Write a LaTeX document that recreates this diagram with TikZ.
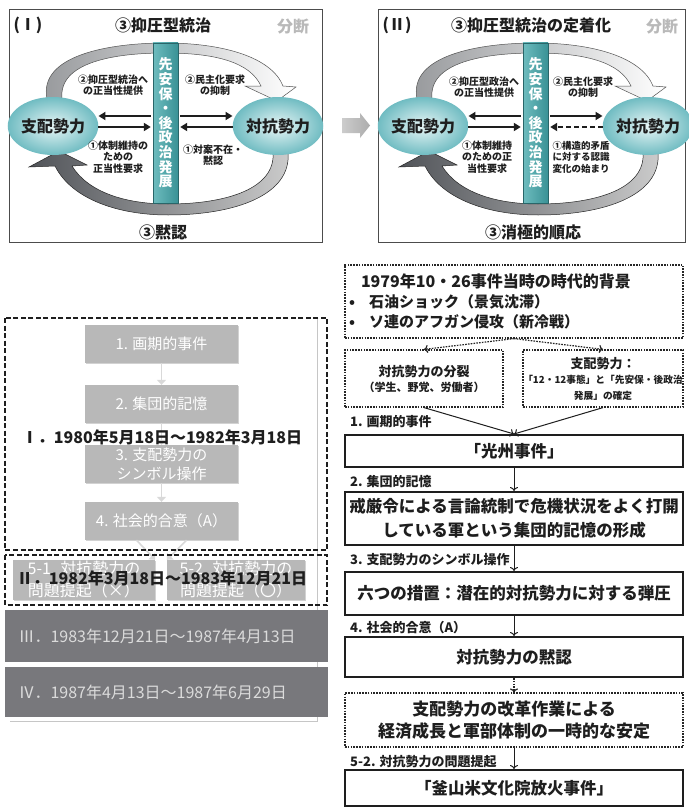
\documentclass[tikz,border=0pt]{standalone}
\usepackage{fontspec}
\setmainfont{Noto Sans CJK JP}
\usetikzlibrary{shapes.geometric,arrows.meta,calc,shadows}

\definecolor{ellin}{RGB}{232,246,246}
\definecolor{ellout}{RGB}{112,188,194}
\definecolor{barL}{RGB}{110,188,190}
\definecolor{barR}{RGB}{58,146,150}
\definecolor{bandL}{RGB}{150,152,155}
\definecolor{bandD}{RGB}{80,83,88}
\definecolor{gboxc}{RGB}{184,184,184}
\definecolor{dboxc}{RGB}{120,120,124}
\definecolor{ink}{RGB}{30,30,30}

\tikzset{
  ell/.style={ellipse, inner color=ellin, outer color=ellout, text=ink,
    font=\bfseries\fontsize{16}{18}\selectfont, inner sep=0pt},
  barbox/.style={rectangle, left color=barL, right color=barR, draw=barR!70!black,
    line width=0.4pt, text=white, font=\bfseries\fontsize{14}{14.6}\selectfont,
    align=center, inner sep=0pt, minimum width=25pt, minimum height=160pt},
  harr/.style={draw=ink, line width=1.8pt, -{Triangle[length=7pt,width=8pt]}},
  lbl/.style={font=\bfseries\fontsize{10}{11.5}\selectfont, text=ink, align=center, inner sep=0pt},
  ttl/.style={font=\bfseries\fontsize{16}{18}\selectfont, text=ink, inner sep=0pt},
  grayttl/.style={font=\bfseries\fontsize{16}{18}\selectfont, text=gray!55, inner sep=0pt},
  frame/.style={draw=gray!60!black, line width=1pt},
  gb/.style={rectangle, fill=gboxc, text=white, font=\fontsize{15}{19}\selectfont,
    align=center, inner sep=0pt,
    drop shadow={shadow xshift=1.2pt, shadow yshift=-1.2pt, fill=gray!70, opacity=0.5}},
  garr/.style={draw=gray!30, line width=1.6pt, -{Triangle[length=5pt,width=9pt]}},
  blk/.style={font=\bfseries\fontsize{16}{18}\selectfont, text=ink, inner sep=0pt},
  db/.style={rectangle, fill=dboxc, text=gray!28, font=\fontsize{16}{18}\selectfont,
    inner sep=0pt, minimum width=323pt, text width=296pt, align=left},
  perframe/.style={draw=ink, line width=1.8pt, dash pattern=on 5pt off 2.5pt},
  fbox/.style={rectangle, draw=ink, line width=2pt, fill=white, text=ink,
    font=\bfseries\fontsize{16.5}{24}\selectfont, align=center, inner sep=0pt,
    minimum width=338pt},
  dotbox/.style={rectangle, draw=gray!30!black, line width=1.2pt,
    dash pattern=on 1.6pt off 1.2pt, fill=white, text=ink, inner sep=0pt},
  farr/.style={draw=ink, line width=1pt, -{To[length=4pt,width=8pt]}},
  dotarr/.style={draw=gray!30!black, line width=1.2pt, dash pattern=on 1.6pt off 1.2pt,
    -{To[length=4pt,width=8pt]}},
  steplbl/.style={font=\bfseries\fontsize{13}{15}\selectfont, text=ink, inner sep=0pt, anchor=west}
}

\newcommand\panelcore[2]{%
  \path[draw=gray!65!black, line width=0.5pt, left color=bandL, right color=white]
    (47,99) .. controls (38,55) and (110,43) .. (165,43)
    .. controls (225,43) and (272,58) .. (283,86)
    -- (296,87) -- (277,101) -- (245,86) -- (261,86)
    .. controls (250,62) and (215,53) .. (165,53)
    .. controls (115,53) and (58,62) .. (62,99) -- cycle;
  \path[draw=gray!30!black, line width=0.5pt, left color=bandD, right color=gray!40]
    (55,166) .. controls (72,200) and (120,215) .. (168,215)
    .. controls (235,215) and (292,195) .. (288,152)
    -- (273,152) .. controls (276,188) and (228,204) .. (168,204)
    .. controls (125,204) and (88,192) .. (72,166)
    -- (87,165) -- (59,151) -- (29,167) -- cycle;
  \node[ell, minimum width=80pt, minimum height=58pt] (L#1) at (53,126) {支配勢力};
  \node[ell, minimum width=76pt, minimum height=58pt] (R#1) at (278,126) {対抗勢力};
  \node[barbox] (B#1) at (165.5,123) {先\\安\\保\\・\\後\\政\\治\\発\\展};
  \draw[harr] ($(B#1.west)+(-2,-7)$) -- ($(L#1.east)+(0,-10)$);
  \draw[harr] ($(L#1.east)+(0,1)$) -- ($(B#1.west)+(-2,4)$);
  \draw[harr] ($(B#1.east)+(2,-7)$) -- ($(R#1.west)+(0,-10)$);
  \draw[harr,#2] ($(R#1.west)+(0,1)$) -- ($(B#1.east)+(2,4)$);
}

\begin{document}
\begin{tikzpicture}[x=1pt,y=-1pt]
\fill[white] (0,0) rectangle (688,808);
\useasboundingbox (0,0) rectangle (688,808);

% ---------------- Panel I ----------------
\draw[frame] (9,10) rectangle (322,242);
\panelcore{1}{solid}
\node[ttl] (t1) at (28,25) {(Ⅰ)};
\node[ttl] (h1) at (163,25) {③抑圧型統治};
\node[grayttl] (s1) at (293,27) {分断};
\node[lbl] (a11) at (113,85) {②抑圧型統治へ\\の正当性提供};
\node[lbl] (a12) at (215,85) {②民主化要求\\の抑制};
\node[lbl] (a13) at (118,157) {①体制維持の\\ための\\正当性要求};
\node[lbl] (a14) at (213,155) {①対案不在・\\黙認};
\node[ttl] (f1) at (163,232) {③黙認};

% ---------------- arrow between panels ----------------
\path[left color=gray!40, right color=gray!65]
  (342,118) -- (360,118) -- (360,113) -- (370,125.5) -- (360,138) -- (360,133) -- (342,133) -- cycle;

% ---------------- Panel II ----------------
\draw[frame] (378,10) rectangle (685,242);
\begin{scope}[xshift=370pt]
\panelcore{2}{dash pattern=on 5pt off 3pt}
\end{scope}
\node[ttl] (t2) at (397,25) {(Ⅱ)};
\node[ttl] (h2) at (531,25) {③抑圧型統治の定着化};
\node[grayttl] (s2) at (662,27) {分断};
\node[lbl] (a21) at (484,87) {②抑圧型政治へ\\の正当性提供};
\node[lbl] (a22) at (583,87) {②民主化要求\\の抑制};
\node[lbl] (a23) at (487,157) {①体制維持\\のための正\\当性要求};
\node[lbl, font=\bfseries\fontsize{9.5}{11.5}\selectfont] (a24) at (581,157) {①構造的矛盾\\に対する認識\\変化の始まり};
\node[ttl] (f2) at (533,232) {③消極的順応};

% ---------------- Left lower: periods ----------------
\draw[gray!45, line width=0.8pt] (317,318) -- (317,721) -- (10,721);
\node[gb, minimum width=153pt, minimum height=38pt] (G1) at (161.5,344) {1. 画期的事件};
\node[gb, minimum width=153pt, minimum height=38pt] (G2) at (161.5,404) {2. 集団的記憶};
\node[gb, minimum width=153pt, minimum height=38pt] (G3) at (161.5,464) {3. 支配勢力の\\シンボル操作};
\node[gb, minimum width=153pt, minimum height=38pt] (G4) at (161.5,521) {4. 社会的合意（A）};
\node[gb, minimum width=142pt, minimum height=40pt, font=\fontsize{16}{22}\selectfont] (G51) at (84,580) {5-1. 対抗勢力の\\問題提起（×）};
\node[gb, minimum width=138pt, minimum height=40pt, font=\fontsize{16}{22}\selectfont] (G52) at (236,580) {5-2. 対抗勢力の\\問題提起（〇）};
\draw[garr] (G1) -- (G2);
\draw[garr] (G2) -- (G3);
\draw[garr] (G3) -- (G4);
\draw[garr] ($(G4.south)+(-25,0)$) -- (G51.north east);
\draw[garr] ($(G4.south)+(25,0)$) -- (G52.north west);

\draw[perframe] (5,318) rectangle (327,550);
\draw[perframe] (5,555) rectangle (327,605);
\node[blk] (p1) at (162,437) {Ⅰ．1980年5月18日～1982年3月18日};
\node[blk] (p2) at (162,578) {Ⅱ．1982年3月18日～1983年12月21日};
\node[db, minimum height=52pt] (p3) at (166.5,636) {Ⅲ．1983年12月21日～1987年4月13日};
\node[db, minimum height=50pt] (p4) at (166.5,692) {Ⅳ．1987年4月13日～1987年6月29日};

% ---------------- Right: flowchart ----------------
\node[dotbox, minimum width=338pt, minimum height=73pt, text width=330pt, align=left,
      font=\bfseries\fontsize{15}{20}\selectfont] (T) at (514,301.5)
  {\hspace*{12pt}{\fontsize{16}{20}\selectfont 1979年10・26事件当時の時代的背景}\\
   •\hspace*{14pt}石油ショック（景気沈滞）\\
   •\hspace*{14pt}ソ連のアフガン侵攻（新冷戦）};
\node[dotbox, minimum width=158pt, minimum height=57pt, align=center,
      font=\bfseries\fontsize{11}{15}\selectfont] (A) at (424,378.5)
  {{\fontsize{13}{15}\selectfont 対抗勢力の分裂}\\（学生、野党、労働者）};
\node[dotbox, minimum width=160pt, minimum height=57pt, align=center,
      font=\bfseries\fontsize{9.7}{15.5}\selectfont] (Bx) at (603,378.5)
  {{\fontsize{13}{15}\selectfont 支配勢力：}\\「12・12事態」と「先安保・後政治\\発展」の確定};
\draw[dotarr] (T.south) -- (A.north);
\draw[dotarr] (T.south) -- (Bx.north);

\node[fbox, minimum height=32pt] (K) at (514,451) {「光州事件」};
\node[fbox, minimum height=53pt] (M) at (514,518.5) {戒厳令による言論統制で危機状況をよく打開\\している軍という集団的記憶の形成};
\node[fbox, minimum height=43pt] (S) at (514,593.5) {六つの措置：潜在的対抗勢力に対する弾圧};
\node[fbox, minimum height=40pt] (C) at (514,657) {対抗勢力の黙認};
\node[dotbox, minimum width=338pt, minimum height=54pt, align=center,
      font=\bfseries\fontsize{17}{22}\selectfont] (E) at (514,720)
  {支配勢力の改革作業による\\経済成長と軍部体制の一時的な安定};
\node[fbox, minimum height=36pt] (F) at (514,788) {「釜山米文化院放火事件」};

\draw[farr] (A.south) -- (K.north);
\draw[farr] (Bx.south) -- (K.north);
\draw[farr] (K) -- (M);
\draw[farr] (M) -- (S);
\draw[farr] (S) -- (C);
\draw[dotarr] (C) -- (E);
\draw[farr] (E) -- (F);

\node[steplbl] (l1) at (350,422) {1. 画期的事件};
\node[steplbl] (l2) at (350,482) {2. 集団的記憶};
\node[steplbl] (l3) at (350,560) {3. 支配勢力のシンボル操作};
\node[steplbl] (l4) at (350,628) {4. 社会的合意（A）};
\node[steplbl] (l5) at (350,762) {5-2. 対抗勢力の問題提起};
\end{tikzpicture}
\end{document}
